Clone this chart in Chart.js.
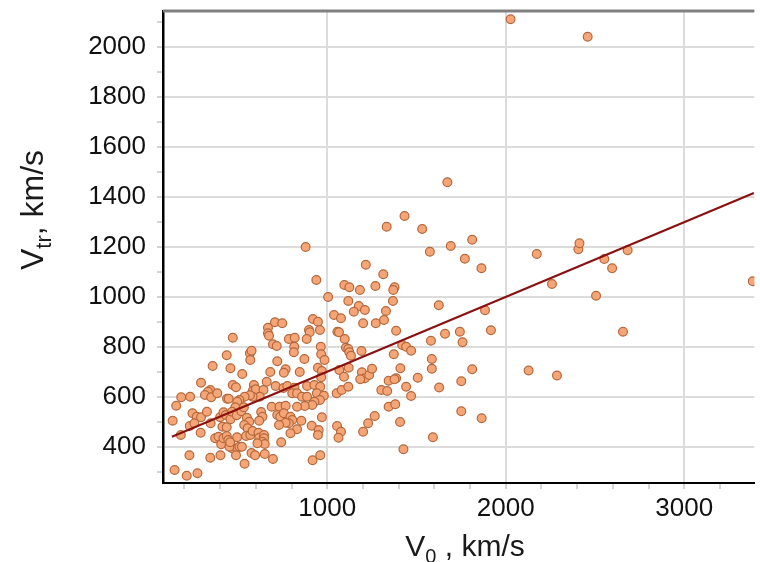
<!DOCTYPE html>
<html>
<head>
<meta charset="utf-8">
<script src="https://cdn.jsdelivr.net/npm/chart.js@4.4.0/dist/chart.umd.min.js"></script>
<style>
  html, body { margin: 0; padding: 0; background: #fff; }
  #wrap { width: 760px; height: 562px; }
</style>
</head>
<body>
<div id="wrap"><canvas id="speedChart" width="760" height="562"></canvas></div>
<script>
// initial speed V0 (km/s)
const v0 = [
  879, 939, 1005, 1096, 1124, 1183, 1216, 1270, 1314, 1333, 1433, 1532, 1377, 1370,
  1673, 1575, 1692, 1812, 1771, 1864, 2174, 2407, 2413, 2552, 2683, 2596, 2259, 2506, 3384,
  1625, 1884, 1917, 1660, 1743, 1758, 1581, 2657, 1586, 1586, 1812, 1751, 1627, 2128, 2287,
  1751, 1865, 1592, 2027, 2459,
  1118, 1368, 1177, 1149, 1211, 1329, 1038, 1077, 920, 948, 1201, 1272, 1318, 707, 748,
  668, 668, 674, 898, 902, 959, 1057, 1066, 1386, 471, 785, 818, 885, 1098, 696, 717,
  815, 964, 1105, 1118, 1420, 1442, 813, 1124, 1192, 1133, 1470, 567, 576, 569, 720,
  767, 757, 872, 966, 985, 1373, 358, 437, 458, 524, 681, 846, 948, 970, 966, 1068,
  1094, 1120, 1194, 1211, 1185, 1235, 1251, 1410, 1386, 1344, 1377, 1507, 1442, 1470,
  1303, 1336, 293, 345, 332, 315, 350, 384, 471, 489, 439, 448, 589, 583, 600, 643,
  661, 622, 582, 567, 537, 508, 496, 711, 755, 776, 816, 804, 831, 859, 887, 887, 928,
  961, 942, 981, 959, 928, 916, 874, 831, 1053, 1081, 1118, 154, 182, 232, 245, 269,
  293, 326, 134, 180, 230, 256, 291, 347, 400, 419, 432, 458, 413, 437, 485, 467, 493,
  519, 533, 550, 563, 535, 554, 545, 569, 582, 630, 637, 619, 615, 619, 646, 646, 637,
  650, 609, 689, 733, 767, 720, 737, 757, 794, 804, 785, 767, 730, 831, 855, 794, 742,
  913, 952, 970, 948, 1055, 1077, 1063, 1201, 1229, 1266, 1344, 1381, 1408, 1427, 372,
  391, 406, 419, 437, 446, 467, 495, 508, 522, 452, 495, 456, 228, 345, 402, 489, 576,
  596, 650, 696, 537, 918, 961, 145, 213, 273
];

// transit speed Vtr (km/s), same order as v0
const vtr = [
  1199, 1067, 999, 1047, 1038, 1027, 1128, 1043, 1090, 1280, 1323, 1271, 1038, 1027,
  1458, 1180, 1203, 1228, 1152, 1114, 1171, 1190, 1214, 1151, 1186, 1114, 1051, 1004, 1062,
  966, 946, 866, 852, 860, 818, 824, 860, 751, 712, 710, 662, 637, 705, 685,
  542, 514, 438, 2110, 2040,
  983, 983, 963, 940, 947, 943, 927, 914, 911, 900, 894, 894, 907, 898, 894,
  876, 854, 844, 867, 858, 867, 860, 858, 864, 836, 831, 836, 831, 831, 810, 803,
  800, 800, 796, 791, 807, 800, 778, 778, 783, 764, 784, 774, 784, 747, 742,
  710, 696, 751, 770, 747, 770, 723, 766, 714, 691, 699, 699, 716, 703, 678, 707,
  680, 716, 698, 674, 670, 687, 712, 714, 674, 664, 670, 676, 640, 603,
  627, 623, 656, 627, 620, 607, 598, 614, 647, 638, 592, 592, 647, 624, 630, 627,
  660, 600, 600, 606, 600, 587, 580, 643, 635, 643, 636, 614, 614, 600, 600, 643, 647,
  640, 614, 604, 587, 580, 567, 563, 560, 614, 627, 640, 564, 598, 600, 534, 520,
  518, 540, 504, 447, 483, 494, 456, 494, 518, 538, 527, 510, 480, 478, 558, 540, 526,
  542, 558, 516, 500, 487, 474, 443, 447, 463, 539, 520, 504, 456, 436, 447, 434, 420,
  411, 414, 560, 560, 564, 527, 520, 534, 520, 507, 494, 496, 487, 470, 504, 454, 418,
  484, 467, 518, 447, 483, 460, 436, 460, 494, 523, 560, 570, 499, 390, 434,
  440, 410, 434, 443, 427, 394, 394, 400, 400, 400, 438, 418, 366, 356, 366, 366, 375,
  366, 371, 351, 332, 346, 366, 307, 284, 294
];

// linear fit line end points
const fitV0 = [130, 3390];
const fitVtr = [440, 1415];

// axis ticks
const xTickValues = [200, 400, 600, 800, 1000, 1200, 1400, 1600, 1800, 2000, 2200, 2400, 2600, 2800, 3000, 3200];
const xLabelValues = [1000, 2000, 3000];
const yTickValues = [300, 400, 500, 600, 700, 800, 900, 1000, 1100, 1200, 1300, 1400, 1500, 1600, 1700, 1800, 1900, 2000, 2100];
const yLabelValues = [400, 600, 800, 1000, 1200, 1400, 1600, 1800, 2000];

const FONT = "'Liberation Sans', Arial, sans-serif";

const points = v0.map((x, i) => ({ x: x, y: vtr[i] }));
const fitLine = fitV0.map((x, i) => ({ x: x, y: fitVtr[i] }));

// text with a lowered, smaller middle part (V0, Vtr)
function drawSubText(ctx, parts, cx, baseY) {
  let total = 0;
  parts.forEach(p => {
    ctx.font = p.size + 'px ' + FONT;
    p.w = ctx.measureText(p.t).width;
    total += p.w;
  });
  let x = cx - total / 2;
  parts.forEach(p => {
    ctx.font = p.size + 'px ' + FONT;
    ctx.fillText(p.t, x, baseY + (p.dy || 0));
    x += p.w;
  });
}

const framePlugin = {
  id: 'frame',
  afterDraw(chart) {
    const { ctx, chartArea } = chart;
    ctx.save();
    // grey top edge of the plot box
    ctx.strokeStyle = '#808080';
    ctx.lineWidth = 3;
    ctx.beginPath();
    ctx.moveTo(chartArea.left, chartArea.top);
    ctx.lineTo(chartArea.right, chartArea.top);
    ctx.stroke();

    ctx.fillStyle = '#1a1a1a';
    ctx.textAlign = 'left';
    ctx.textBaseline = 'alphabetic';
    // x title
    drawSubText(ctx, [
      { t: 'V', size: 30 },
      { t: '0', size: 20, dy: 7 },
      { t: ' , km/s', size: 30 }
    ], 465, 556);
    // y title
    ctx.translate(43, 210);
    ctx.rotate(-Math.PI / 2);
    drawSubText(ctx, [
      { t: 'V', size: 32 },
      { t: 'tr', size: 22, dy: 8 },
      { t: ', km/s', size: 32 }
    ], 0, 0);
    ctx.restore();
  }
};

const ctx = document.getElementById('speedChart').getContext('2d');

const data = {
  datasets: [{
    label: 'fit',
    data: fitLine,
    showLine: true,
    borderColor: '#8b1010',
    borderWidth: 2.2,
    pointRadius: 0,
    order: 0
  }, {
    label: 'events',
    data: points,
    backgroundColor: '#f6a676',
    borderColor: '#b4683c',
    borderWidth: 1.2,
    pointRadius: 4.4,
    order: 1
  }]
};

const options = {
  responsive: false,
  animation: false,
  layout: { padding: { top: 11, left: 0, right: 0, bottom: 0 } },
  plugins: {
    legend: { display: false },
    tooltip: { enabled: false }
  },
  scales: {
    x: {
      type: 'linear',
      min: 80,
      max: 3393,
      afterBuildTicks: axis => { axis.ticks = xTickValues.map(v => ({ value: v })); },
      afterFit: axis => {
        axis.height = 79;
        axis.paddingLeft = 0;
        axis.paddingRight = 0;
      },
      border: { color: '#000', width: 2 },
      grid: {
        color: c => (c.tick && xLabelValues.includes(c.tick.value)) ? '#dcdcdc' : 'transparent',
        lineWidth: 2,
        tickColor: '#a8a8a8',
        tickWidth: 1,
        tickLength: 6
      },
      ticks: {
        autoSkip: false,
        maxRotation: 0,
        padding: 4,
        color: '#111',
        font: { family: FONT, size: 26 },
        callback: v => xLabelValues.includes(v) ? String(v) : ''
      }
    },
    y: {
      type: 'linear',
      min: 255,
      max: 2143,
      afterBuildTicks: axis => { axis.ticks = yTickValues.map(v => ({ value: v })); },
      afterFit: axis => {
        axis.width = 163;
        axis.paddingTop = 0;
        axis.paddingBottom = 0;
      },
      border: { color: '#000', width: 2.5 },
      grid: {
        color: c => (c.tick && yLabelValues.includes(c.tick.value)) ? '#dcdcdc' : 'transparent',
        lineWidth: 2,
        tickColor: '#a8a8a8',
        tickWidth: 1,
        tickLength: 6
      },
      ticks: {
        autoSkip: false,
        padding: 11,
        color: '#111',
        font: { family: FONT, size: 26 },
        callback: v => yLabelValues.includes(v) ? String(v) : ''
      }
    }
  }
};

const speedChart = new Chart(ctx, {
  type: 'scatter',
  data: data,
  options: options,
  plugins: [framePlugin]
});
</script>
</body>
</html>
